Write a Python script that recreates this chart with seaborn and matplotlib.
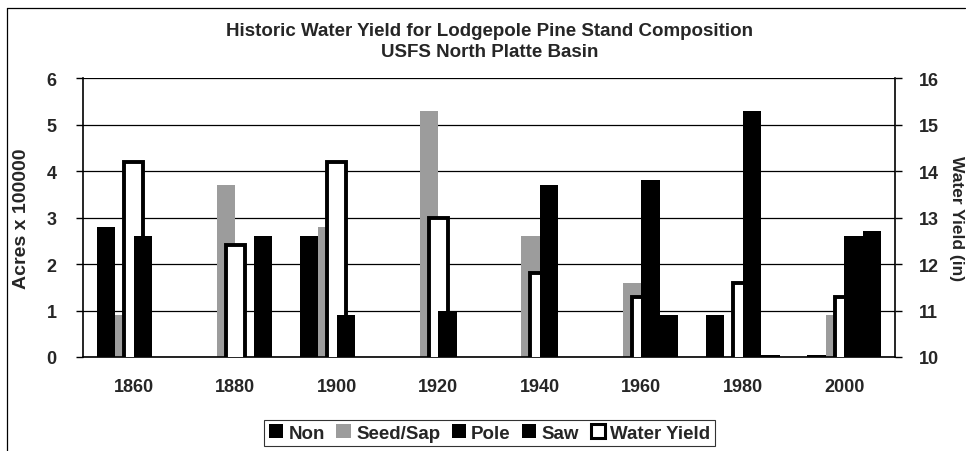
import pandas as pd
import matplotlib.pyplot as plt
import seaborn as sns
import numpy as np
from matplotlib.patches import Patch
from matplotlib.lines import Line2D

years = ["1860", "1880", "1900", "1920", "1940", "1960", "1980", "2000"]
non = [2.8, 0.0, 2.6, 0.0, 0.0, 0.0, 0.9, 0.05]
seed_sap = [0.9, 3.7, 2.8, 5.3, 2.6, 1.6, 0.0, 0.9]
pole = [2.6, 0.0, 0.9, 1.0, 3.7, 3.8, 5.3, 2.6]
saw = [0.0, 2.6, 0.0, 0.0, 0.0, 0.9, 0.05, 2.7]
water_yield = [14.2, 12.4, 14.2, 13.0, 11.8, 11.3, 11.6, 11.3]

series_names = ["Non", "Seed/Sap", "Pole", "Saw"]
series_colors = ["black", "#9c9c9c", "black", "black"]

df = pd.DataFrame({"Year": years, "Non": non, "Seed/Sap": seed_sap,
                   "Pole": pole, "Saw": saw})
df = df.melt(id_vars="Year", var_name="Class", value_name="Acres")
df_wy = pd.DataFrame({"Year": years, "WY": water_yield})

sns.set_style("white")
plt.rcParams["font.family"] = ["Liberation Sans", "DejaVu Sans"]
plt.rcParams["font.weight"] = "bold"

fig = plt.figure(figsize=(9.66, 4.52), dpi=100)
ax = fig.add_axes([0.0859, 0.208, 0.8406, 0.617])
ax2 = ax.twinx()   # water yield (right axis)
ax3 = ax.twinx()   # Pole / Saw drawn over the water yield bars

def acre_bars(a, keep):
    sns.barplot(data=df, x="Year", y="Acres", hue="Class", hue_order=series_names,
                palette=series_colors, width=0.73, linewidth=0, saturation=1,
                legend=False, ax=a)
    for name, cont in zip(series_names, a.containers):
        if name not in keep:
            for p in cont:
                p.set_visible(False)

acre_bars(ax, ["Non", "Seed/Sap"])
sns.barplot(data=df_wy, x="Year", y="WY", color="white", width=0.19,
            edgecolor="black", linewidth=2.8, saturation=1, ax=ax2)
acre_bars(ax3, ["Pole", "Saw"])

for a in (ax, ax3):
    a.set_ylim(0, 6)
    a.set_xlim(-0.5, len(years) - 0.5)
ax2.set_ylim(10, 16)
ax.set_yticks(range(0, 7))
ax2.set_yticks(range(10, 17))
ax3.set_yticks([])
ax3.set_ylabel("")

ax.yaxis.grid(True, color="black", linewidth=0.9)
ax.set_axisbelow(True)

# tick marks between the categories, labels at the centres
ax.set_xticks(np.arange(len(years)))
ax.set_xticklabels(years)
ax.set_xticks(np.arange(-0.5, len(years)), minor=True)
ax.tick_params(axis="x", which="major", length=0, pad=15, labelsize=13)
ax.tick_params(axis="x", which="minor", length=5, width=1, direction="out", color="black")
ax.tick_params(axis="y", length=5, width=1, direction="out", color="black", labelsize=13, pad=14)
ax2.tick_params(axis="y", length=5, width=1, direction="out", color="black", labelsize=13, pad=12)

for a in (ax, ax2, ax3):
    for s in a.spines.values():
        s.set_visible(False)
ax.spines["left"].set_visible(True)
ax.spines["bottom"].set_visible(True)
ax2.spines["right"].set_visible(True)
for s in (ax.spines["left"], ax.spines["bottom"], ax2.spines["right"]):
    s.set_color("black")
    s.set_linewidth(1.2)

ax.set_xlabel("")
ax.set_ylabel("Acres x 100000", fontsize=14, fontweight="bold", labelpad=12)
ax2.set_ylabel("Water Yield (in)", fontsize=12.5, fontweight="bold", rotation=270, labelpad=18)

fig.text(0.507, 0.930, "Historic Water Yield for Lodgepole Pine Stand Composition",
         ha="center", va="center", fontsize=13.5, fontweight="bold")
fig.text(0.507, 0.883, "USFS North Platte Basin",
         ha="center", va="center", fontsize=13.5, fontweight="bold")

handles = [Patch(facecolor=c, edgecolor="none") for c in series_colors]
handles.append(Patch(facecolor="white", edgecolor="black", linewidth=2.2))
labels = series_names + ["Water Yield"]
leg = fig.legend(handles, labels, loc="center", bbox_to_anchor=(0.507, 0.040),
                 ncol=5, fontsize=13.5, frameon=True, fancybox=False,
                 handlelength=0.75, handleheight=0.75, handletextpad=0.3,
                 columnspacing=0.6, borderpad=0.25, borderaxespad=0)
leg.get_frame().set_edgecolor("black")
leg.get_frame().set_linewidth(0.8)

# outer chart frame (top and left edges visible in the scan)
fig.add_artist(Line2D([0.007, 0.999], [0.980, 0.980], color="black", linewidth=0.9))
fig.add_artist(Line2D([0.007, 0.007], [0.0, 0.980], color="black", linewidth=0.9))

plt.savefig("out.png", format="png", dpi=100)
